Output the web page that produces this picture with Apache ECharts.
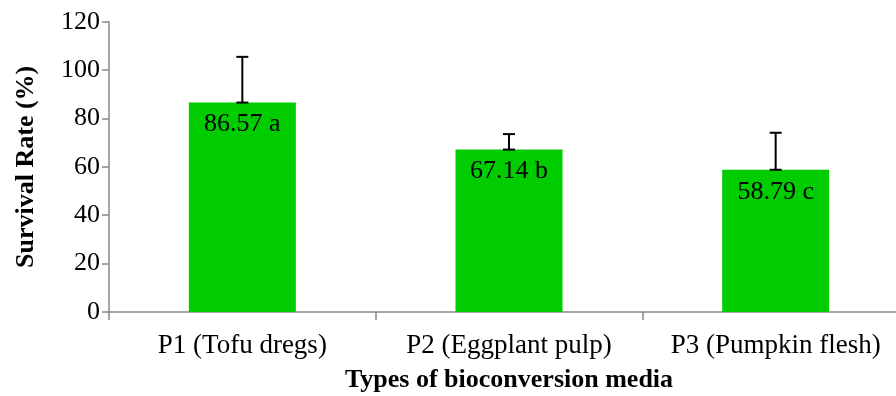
<!DOCTYPE html>
<html>
<head>
<meta charset="utf-8">
<script src="https://cdn.jsdelivr.net/npm/echarts@6/dist/echarts.min.js"></script>
<style>html,body{margin:0;padding:0;background:#fff}#c{width:896px;height:396px}</style>
</head>
<body>
<div id="c"></div>
<script>
const categories = ['P1 (Tofu dregs)', 'P2 (Eggplant pulp)', 'P3 (Pumpkin flesh)'];
const survivalRate = [86.57, 67.14, 58.79];
const errorUpper = [18.9, 6.4, 15.3];
const letters = ['a', 'b', 'c'];
const yTicks = [0, 20, 40, 60, 80, 100, 120];

const FONT = '"Liberation Serif", "Times New Roman", serif';
const chart = echarts.init(document.getElementById('c'), null, {renderer: 'canvas'});
chart.setOption({
  animation: false,
  grid: {left: 109, top: 21.7, right: -13, bottom: 84, containLabel: false, outerBoundsMode: 'none'},
  xAxis: {
    type: 'category',
    data: categories,
    name: 'Types of bioconversion media',
    nameLocation: 'middle',
    nameGap: 55,
    nameTextStyle: {fontFamily: FONT, fontSize: 26, fontWeight: 'bold', color: '#000'},
    axisLine: {lineStyle: {color: '#888888', width: 1.5}},
    axisTick: {show: true, length: 8, alignWithLabel: false, lineStyle: {color: '#888888', width: 1.5}},
    axisLabel: {fontFamily: FONT, fontSize: 27, color: '#000', margin: 20, interval: 0, hideOverlap: false}
  },
  yAxis: {
    type: 'value',
    min: yTicks[0],
    max: yTicks[yTicks.length - 1],
    interval: 20,
    name: 'Survival Rate (%)',
    nameLocation: 'middle',
    nameGap: 70,
    nameTextStyle: {fontFamily: FONT, fontSize: 26, fontWeight: 'bold', color: '#000'},
    axisLine: {show: true, lineStyle: {color: '#888888', width: 1.5}},
    axisTick: {show: true, length: 7, lineStyle: {color: '#888888', width: 1.5}},
    splitLine: {show: false},
    axisLabel: {fontFamily: FONT, fontSize: 26, color: '#000', margin: 9}
  },
  series: [
    {
      type: 'bar',
      data: survivalRate,
      barWidth: 107,
      itemStyle: {color: '#00CC00'},
      label: {
        show: true,
        position: 'insideTop',
        distance: 9,
        fontFamily: FONT,
        fontSize: 26,
        color: '#000',
        formatter: p => p.value + ' ' + letters[p.dataIndex]
      },
      z: 2
    },
    {
      type: 'custom',
      data: survivalRate.map((v, i) => [i, v, v + errorUpper[i]]),
      z: 5,
      renderItem: function (params, api) {
        const x = api.value(0);
        const low = api.coord([x, api.value(1)]);
        const high = api.coord([x, api.value(2)]);
        const hw = 6;
        const style = {stroke: '#000', lineWidth: 2};
        return {
          type: 'group',
          children: [
            {type: 'line', shape: {x1: low[0], y1: low[1], x2: high[0], y2: high[1]}, style},
            {type: 'line', shape: {x1: high[0] - hw, y1: high[1], x2: high[0] + hw, y2: high[1]}, style},
            {type: 'line', shape: {x1: low[0] - hw, y1: low[1], x2: low[0] + hw, y2: low[1]}, style}
          ]
        };
      }
    }
  ]
});
</script>
</body>
</html>
